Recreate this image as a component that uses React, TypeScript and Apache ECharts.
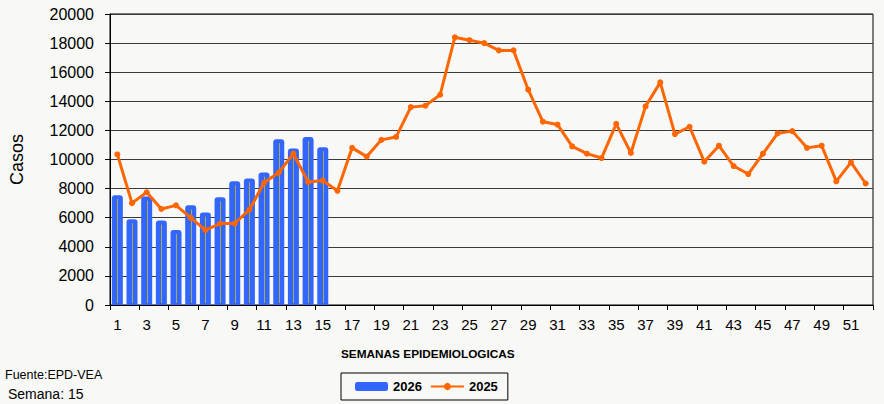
import React, { useEffect, useRef } from "react";
import * as echarts from "echarts";

const weeks: string[] = Array.from({ length: 52 }, (_, i) => String(i + 1));
const cases2026: number[] = [7550, 5900, 7450, 5800, 5150, 6850, 6350, 7400, 8500, 8700, 9100, 11400, 10750, 11550, 10850];
const cases2025: number[] = [
  10350, 7000, 7750, 6600, 6850, 6000, 5150, 5600, 5600, 6550,
  8400, 9100, 10400, 8450, 8550, 7850, 10800, 10200, 11350, 11550,
  13600, 13700, 14450, 18400, 18200, 18000, 17500, 17500, 14800, 12600,
  12400, 10900, 10400, 10100, 12450, 10450, 13650, 15300, 11750, 12250,
  9850, 10950, 9550, 9000, 10400, 11800, 11950, 10800, 10950, 8500,
  9800, 8350,
];
const yTicks = { min: 0, max: 20000, interval: 2000 };
const seriesNames = ["2026", "2025"];

const FONT = "Liberation Sans, Arial, sans-serif";

export default function App() {
  const ref = useRef<HTMLDivElement>(null);
  useEffect(() => {
    document.body.style.margin = "0";
    document.body.style.background = "#f8f8f6";
    if (!ref.current) return;
    const chart = echarts.init(ref.current, undefined, { renderer: "svg" });
    chart.setOption({
      animation: false,
      backgroundColor: "#f8f8f6",
      textStyle: { fontFamily: FONT },
      grid: {
        left: 109,
        right: 11,
        top: 14,
        bottom: 99,
        show: true,
        borderColor: "#000",
        borderWidth: 1,
        backgroundColor: "transparent",
      },
      legend: {
        left: 341,
        top: 373,
        orient: "horizontal",
        borderColor: "#000",
        borderWidth: 1,
        padding: [7, 10, 7, 14],
        itemGap: 8,
        itemWidth: 33,
        itemHeight: 9,
        textStyle: { fontFamily: FONT, fontSize: 13, fontWeight: "bold", color: "#000" },
        data: [
          { name: seriesNames[0], icon: "roundRect" },
          { name: seriesNames[1] },
        ],
      },
      xAxis: {
        type: "category",
        data: weeks,
        boundaryGap: true,
        axisLine: { lineStyle: { color: "#000", width: 1 } },
        axisTick: { show: true, length: 5, lineStyle: { color: "#000" } },
        axisLabel: { interval: 1, margin: 12, fontSize: 15, color: "#000", fontFamily: FONT },
        splitLine: { show: false },
      },
      yAxis: {
        type: "value",
        min: yTicks.min,
        max: yTicks.max,
        interval: yTicks.interval,
        name: "Casos",
        nameLocation: "middle",
        nameGap: 84,
        nameRotate: 90,
        nameTextStyle: { fontSize: 18, color: "#000", fontFamily: FONT },
        axisLine: { show: true, lineStyle: { color: "#000", width: 1 } },
        axisTick: { show: true, length: 5, lineStyle: { color: "#000" } },
        axisLabel: {
          margin: 16,
          fontSize: 16,
          color: "#000",
          fontFamily: FONT,
          formatter: (v: number) => String(v),
        },
        splitLine: { show: true, lineStyle: { color: "#3a3a3a", width: 1 } },
      },
      graphic: [
        {
          type: "text",
          left: 120,
          top: 60,
          rotation: 0.45,
          silent: true,
          style: { text: "Epidemiologia", fontSize: 34, fontWeight: "bold", fontFamily: FONT, fill: "rgba(0,0,0,0.022)" },
        },
        {
          type: "text",
          left: 260,
          top: 40,
          rotation: 0.35,
          silent: true,
          style: { text: "Gerencia Regional de Salud Arequipa", fontSize: 34, fontWeight: "bold", fontFamily: FONT, fill: "rgba(0,0,0,0.022)" },
        },
        {
          type: "text",
          left: 440,
          top: 90,
          rotation: 0.35,
          silent: true,
          style: { text: "Gerencia de Salud Arequipa", fontSize: 34, fontWeight: "bold", fontFamily: FONT, fill: "rgba(0,0,0,0.022)" },
        },
        {
          type: "text",
          left: 341,
          top: 348,
          style: { text: "SEMANAS EPIDEMIOLOGICAS", fontSize: 11.8, fontWeight: "bold", fontFamily: FONT, fill: "#000" },
        },
        {
          type: "text",
          left: 5,
          top: 368,
          style: { text: "Fuente:EPD-VEA", fontSize: 12.5, fontFamily: FONT, fill: "#000" },
        },
        {
          type: "text",
          left: 8,
          top: 387,
          style: { text: "Semana: 15", fontSize: 14, fontFamily: FONT, fill: "#000" },
        },
      ],
      series: [
        {
          name: seriesNames[0],
          type: "bar",
          data: cases2026,
          barWidth: 11,
          itemStyle: { color: "#3366ff", borderRadius: [3, 3, 1, 1] },
          z: 2,
        },
        {
          name: "2026-line",
          type: "custom",
          data: cases2026.map((v, i) => [i, v]),
          z: 3,
          silent: true,
          renderItem: (params: any, api: any) => {
            const i = api.value(0);
            const v = api.value(1);
            const bottom = api.coord([i, 0]);
            const top = api.coord([i, v]);
            const x = Math.round(bottom[0]) + 0.5;
            return {
              type: "line",
              shape: { x1: x, y1: bottom[1] - 2, x2: x, y2: top[1] + 4 },
              style: { stroke: "#a4ad52", lineWidth: 1 },
            };
          },
        },
        {
          name: seriesNames[1],
          type: "line",
          data: cases2025,
          symbol: "circle",
          symbolSize: 6,
          lineStyle: { color: "#ff6600", width: 3 },
          itemStyle: { color: "#ff6600" },
          z: 4,
        },
      ],
    });
    return () => chart.dispose();
  }, []);
  return <div ref={ref} style={{ width: 884, height: 404 }} />;
}
